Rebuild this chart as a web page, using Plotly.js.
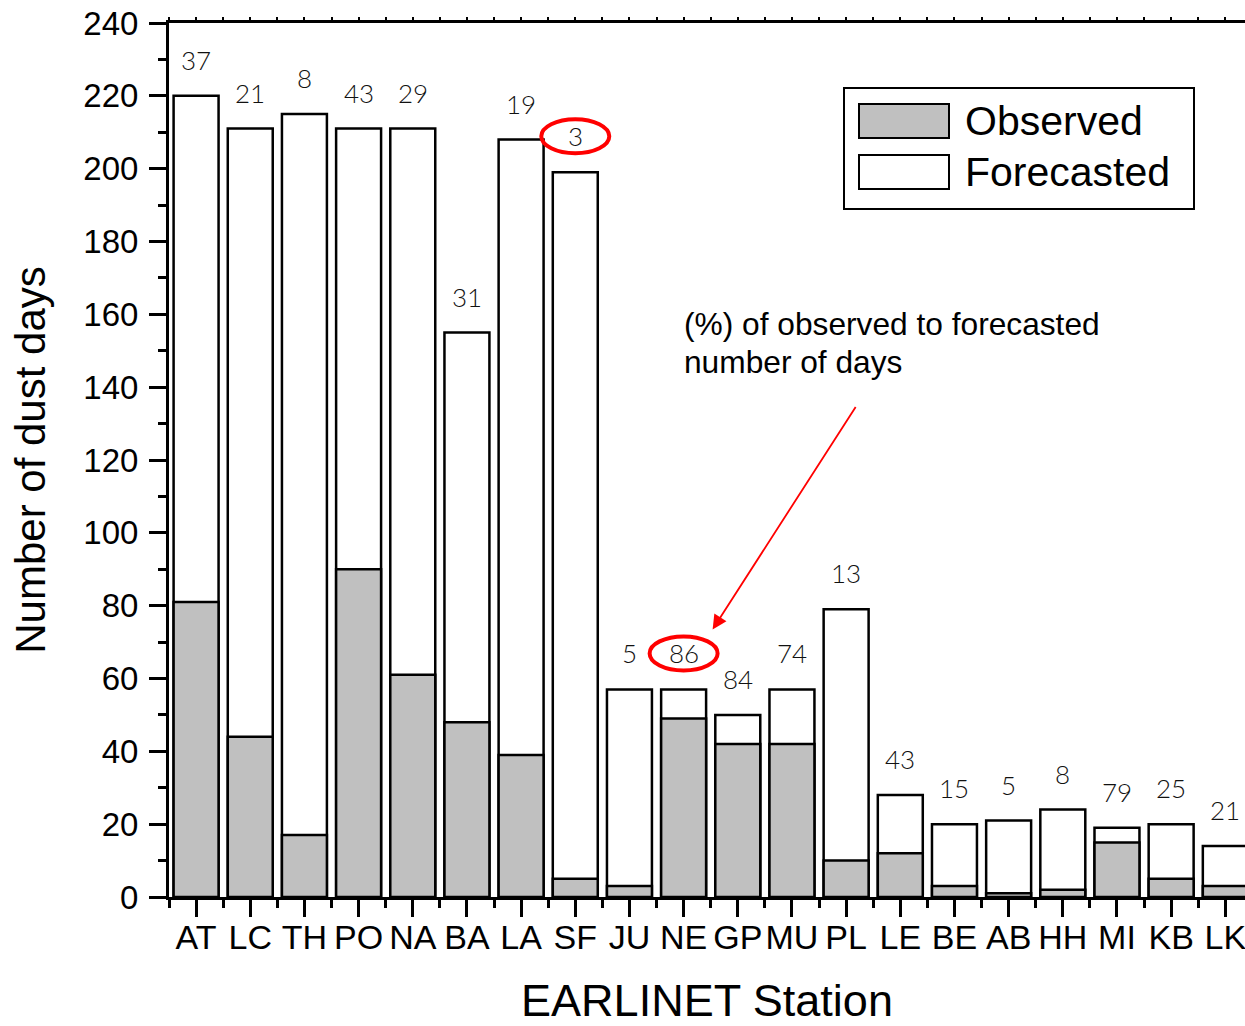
<!DOCTYPE html>
<html>
<head>
<meta charset="utf-8">
<script src="https://cdn.plot.ly/plotly-3.0.1.min.js"></script>
<style>html,body{margin:0;padding:0;background:#fff;}#chart{width:1245px;height:1026px;}</style>
</head>
<body>
<div id="chart"></div>
<script>
// ---- data ----
const categories = ['AT','LC','TH','PO','NA','BA','LA','SF','JU','NE','GP','MU','PL','LE','BE','AB','HH','MI','KB','LK'];
const forecasted = [220,211,215,211,211,155,208,199,57,57,50,57,79,28,20,21,24,19,20,14];
const observed   = [81,44,17,90,61,48,39,5,3,49,42,42,10,12,3,1,2,15,5,3];
const percentObserved = [37,21,8,43,29,31,19,3,5,86,84,74,13,43,15,5,8,79,25,21];
const highlighted = ['SF','NE'];
const arrowTarget = 'NE';
const seriesNames = ['Observed','Forecasted'];
const noteLines = ['(%) of observed to forecasted','number of days'];

// ---- layout helpers ----
const W = 1245, H = 1026;
const M = {l:169, r:0, t:23, b:129};
const PW = W - M.l - M.r, PH = H - M.t - M.b;
const px = v => (v - M.l) / PW;          // pixel x -> paper
const py = v => (H - M.b - v) / PH;      // pixel y -> paper
const idx = categories.map((_, i) => i);
const FONT = 'Arial, "Liberation Sans", sans-serif';
const LABEL_FONT = 'Lato, "Open Sans", sans-serif';
const LABEL_DY = 36;

const traces = [
  {type:'bar', x: idx, y: forecasted, name: seriesNames[1], width: 0.83,
   marker:{color:'#ffffff', line:{color:'#000', width:2.5}}, showlegend:false, hoverinfo:'skip'},
  {type:'bar', x: idx, y: observed, name: seriesNames[0], width: 0.83,
   marker:{color:'#c0c0c0', line:{color:'#000', width:2.5}}, showlegend:false, hoverinfo:'skip'},
  {type:'scatter', x: [], y: [], xaxis:'x2', showlegend:false, hoverinfo:'skip'}
];

const annotations = idx.map(i => ({
  x: i, y: forecasted[i], xref:'x', yref:'y', text: String(percentObserved[i]),
  showarrow:false, xanchor:'center', yanchor:'middle', yshift: LABEL_DY,
  font:{family: LABEL_FONT, size:26, color:'#111', weight:300}
}));

const ti = categories.indexOf(arrowTarget);
annotations.push({
  x: ti, y: forecasted[ti], xref:'x', yref:'y', xshift: 29, yshift: 60,
  text:'', showarrow:true, arrowhead:2, arrowsize:1.6, arrowwidth:1.8, arrowcolor:'#ff0000',
  ax: 144, ay: -224, axref:'pixel', ayref:'pixel', standoff:0
});
noteLines.forEach((t, k) => annotations.push({
  x: px(682), y: py(324 + k*38), xref:'paper', yref:'paper', text: t, showarrow:false,
  xanchor:'left', yanchor:'middle', font:{family: FONT, size:31.7, color:'#000'}
}));
seriesNames.forEach((t, k) => annotations.push({
  x: px(963), y: py(121 + k*51), xref:'paper', yref:'paper', text: t, showarrow:false,
  xanchor:'left', yanchor:'middle', font:{family: FONT, size:41, color:'#000'}
}));

const shapes = [];
highlighted.forEach(c => {
  const i = categories.indexOf(c);
  shapes.push({type:'circle', xref:'x', yref:'y', xsizemode:'pixel', ysizemode:'pixel',
    xanchor: i, yanchor: forecasted[i], x0:-34, x1:34, y0: LABEL_DY-17, y1: LABEL_DY+17,
    line:{color:'#ff0000', width:4}, layer:'above'});
});
// legend box & swatches
shapes.push({type:'rect', xref:'paper', yref:'paper', x0:px(844), x1:px(1194), y0:py(88), y1:py(209),
  line:{color:'#000', width:2}, fillcolor:'rgba(0,0,0,0)'});
shapes.push({type:'rect', xref:'paper', yref:'paper', x0:px(859), x1:px(949), y0:py(104), y1:py(138),
  line:{color:'#000', width:2}, fillcolor:'#c0c0c0'});
shapes.push({type:'rect', xref:'paper', yref:'paper', x0:px(859), x1:px(949), y0:py(155), y1:py(189),
  line:{color:'#000', width:2}, fillcolor:'#ffffff'});

const xr = [-0.5, -0.5 + (W - M.l) / 54.17];

const layout = {
  width: W, height: H, margin: M,
  paper_bgcolor:'#fff', plot_bgcolor:'#fff',
  barmode:'overlay', bargap:0,
  showlegend:false,
  xaxis:{
    range: xr, tickmode:'array', tickvals: idx, ticktext: categories,
    showline:true, linecolor:'#000', linewidth:3, showgrid:false, zeroline:false,
    ticks:'outside', ticklen:17, tickwidth:3, tickcolor:'#000',
    minor:{tickmode:'linear', tick0:-0.5, dtick:1, ticks:'outside', ticklen:8, tickwidth:3, tickcolor:'#000', showgrid:false},
    tickfont:{family: FONT, size:34, color:'#000'}, ticklabelstandoff: -9, ticklabeloverflow:'allow',
    title:{text:'EARLINET Station', font:{family: FONT, size:45, color:'#000'}, standoff: 40},
    automargin:false
  },
  xaxis2:{
    overlaying:'x', side:'top', range: xr, tickmode:'linear', tick0:-0.5, dtick:0.5,
    showline:true, linecolor:'#000', linewidth:3, ticks:'outside', ticklen:3, tickwidth:2, tickcolor:'#000',
    showticklabels:false, showgrid:false, zeroline:false
  },
  yaxis:{
    range:[0,240], tickmode:'linear', tick0:0, dtick:20,
    showline:true, linecolor:'#000', linewidth:3, showgrid:false, zeroline:false,
    ticks:'outside', ticklen:17, tickwidth:3, tickcolor:'#000',
    minor:{tickmode:'linear', tick0:0, dtick:10, ticks:'outside', ticklen:8, tickwidth:3, tickcolor:'#000', showgrid:false},
    tickfont:{family: FONT, size:33, color:'#000'}, ticklabelstandoff: 4,
    title:{text:'Number of dust days', font:{family: FONT, size:42, color:'#000'}, standoff: 25},
    automargin:false
  },
  annotations, shapes
};

Plotly.newPlot('chart', traces, layout, {staticPlot:true, displayModeBar:false});
</script>
</body>
</html>
